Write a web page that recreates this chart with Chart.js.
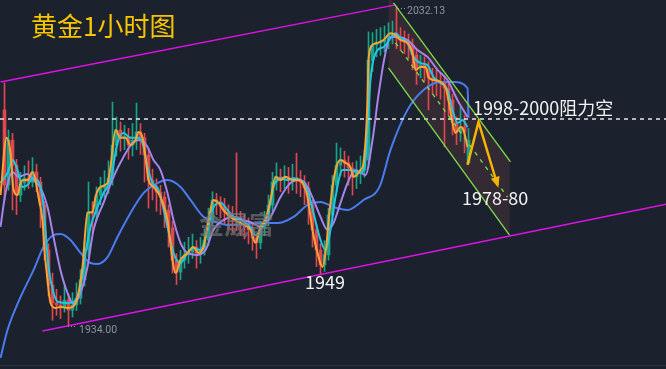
<!DOCTYPE html>
<html>
<head>
<meta charset="utf-8">
<script src="https://cdn.jsdelivr.net/npm/chart.js@4.4.1/dist/chart.umd.min.js"></script>
<style>
  html, body { margin: 0; padding: 0; background: #1b212d; }
  #wrap { width: 666px; height: 369px; position: relative; }
</style>
</head>
<body>
<div id="wrap"><canvas id="c"></canvas></div>
<script>
// K线数据（1小时）
const opens = [
  2000.2, 1977.1, 1990.9, 1983.2, 1974.0, 1977.7, 1979.2, 1978.0, 1981.1, 1978.0,
  1970.9, 1957.1, 1946.3, 1940.8, 1940.2, 1939.3, 1941.7, 1938.6, 1940.2, 1942.3,
  1947.9, 1957.1, 1968.8, 1968.2, 1974.0, 1976.2, 1977.1, 1979.2, 1989.4, 1994.0,
  1991.6, 1992.0, 1989.4, 1990.9, 1993.4, 1991.6, 1986.3, 1978.6, 1976.5, 1974.9,
  1973.4, 1969.4, 1963.9, 1954.0, 1950.3, 1954.0, 1955.6, 1956.5, 1958.0, 1956.2,
  1957.1, 1960.2, 1966.3, 1972.5, 1971.9, 1970.6, 1968.8, 1967.6, 1966.9, 1965.7,
  1965.4, 1964.2, 1963.3, 1960.8, 1959.3, 1963.9, 1966.3, 1970.9, 1978.0, 1979.6,
  1978.6, 1979.6, 1978.6, 1979.2, 1978.6, 1978.0, 1976.2, 1970.9, 1963.3, 1957.1,
  1952.5, 1955.6, 1967.9, 1977.1, 1983.2, 1984.8, 1983.9, 1982.3, 1979.6, 1981.1,
  1981.7, 1984.8, 2015.5, 2020.2, 2020.8, 2021.1, 2021.7, 2023.2, 2023.8, 2022.3,
  2021.7, 2021.1, 2020.2, 2017.1, 2013.1, 2014.0, 2013.1, 2010.0, 2009.4, 2008.8,
  2008.5, 2006.9, 2003.2, 1996.5, 1993.4, 1994.9, 1983.9
];
const highs = [
  2008.5, 1994.0, 1993.0, 1985.0, 1981.0, 1983.0, 1984.5, 1985.5, 1983.5, 1979.5,
  1972.0, 1959.0, 1950.0, 1945.0, 1943.0, 1946.0, 1943.5, 1944.0, 1947.0, 1951.0,
  1960.0, 1978.0, 1972.0, 1976.5, 1979.5, 1981.5, 1984.5, 2002.6, 1998.0, 1996.5,
  1995.5, 1994.5, 1996.0, 2002.3, 1996.0, 1993.0, 1988.0, 1982.0, 1979.0, 1977.0,
  1975.0, 1971.0, 1966.0, 1956.0, 1957.0, 1959.5, 1961.0, 1962.0, 1960.0, 1961.0,
  1963.5, 1970.0, 1975.0, 1974.5, 1973.5, 1973.0, 1971.0, 1970.5, 1987.0, 1969.0,
  1968.0, 1967.0, 1965.0, 1962.0, 1966.0, 1969.0, 1974.0, 1981.0, 1983.9, 1982.0,
  1983.0, 1982.5, 1983.5, 1986.9, 1981.5, 1980.0, 1978.0, 1972.5, 1965.0, 1959.0,
  1960.0, 1970.0, 1980.0, 1990.0, 1988.5, 1987.5, 1986.0, 1984.0, 1984.5, 1986.0,
  1988.0, 2024.2, 2024.0, 2025.0, 2025.5, 2026.0, 2027.0, 2027.5, 2032.13, 2025.5,
  2024.5, 2023.5, 2022.0, 2018.5, 2017.0, 2016.5, 2015.0, 2013.0, 2012.5, 2011.5,
  2010.5, 2008.5, 2005.0, 1998.0, 2001.0, 1998.5, 1994.5
];
const lows = [
  1972.5, 1975.5, 1969.4, 1968.0, 1972.0, 1975.5, 1976.0, 1976.5, 1975.0, 1964.0,
  1954.0, 1943.0, 1935.5, 1937.0, 1936.0, 1938.0, 1934.0, 1936.5, 1938.5, 1940.5,
  1946.0, 1955.0, 1962.0, 1966.0, 1971.0, 1973.0, 1974.5, 1977.0, 1986.0, 1987.5,
  1988.0, 1985.0, 1986.0, 1988.0, 1986.5, 1978.0, 1970.0, 1972.5, 1969.0, 1968.0,
  1964.0, 1958.0, 1950.0, 1946.5, 1948.0, 1951.5, 1953.0, 1954.5, 1951.5, 1953.0,
  1955.5, 1958.5, 1964.5, 1968.0, 1967.0, 1965.0, 1963.5, 1962.5, 1963.0, 1961.5,
  1960.5, 1959.0, 1957.0, 1954.5, 1957.5, 1961.5, 1964.5, 1969.0, 1975.5, 1975.0,
  1976.0, 1974.5, 1975.5, 1974.5, 1973.5, 1971.0, 1965.0, 1958.0, 1952.0, 1949.4,
  1950.5, 1954.0, 1966.0, 1975.0, 1980.0, 1979.5, 1977.0, 1974.0, 1976.0, 1977.5,
  1979.5, 1982.5, 2012.0, 2016.5, 2017.0, 2018.0, 2019.0, 2020.5, 2019.0, 2018.5,
  2017.5, 2016.0, 2012.5, 2008.0, 2010.0, 2009.0, 2000.2, 2005.0, 2004.5, 2003.5,
  1988.8, 1998.5, 1992.5, 1989.5, 1990.5, 1987.0, 1983.5
];
const closes = [
  1977.1, 1990.9, 1983.2, 1974.0, 1977.7, 1979.2, 1978.0, 1981.1, 1978.0, 1970.9,
  1957.1, 1946.3, 1940.8, 1940.2, 1939.3, 1941.7, 1938.6, 1940.2, 1942.3, 1947.9,
  1957.1, 1968.8, 1968.2, 1974.0, 1976.2, 1977.1, 1979.2, 1989.4, 1994.0, 1991.6,
  1992.0, 1989.4, 1990.9, 1993.4, 1991.6, 1986.3, 1978.6, 1976.5, 1974.9, 1973.4,
  1969.4, 1963.9, 1954.0, 1950.3, 1954.0, 1955.6, 1956.5, 1958.0, 1956.2, 1957.1,
  1960.2, 1966.3, 1972.5, 1971.9, 1970.6, 1968.8, 1967.6, 1966.9, 1965.7, 1965.4,
  1964.2, 1963.3, 1960.8, 1959.3, 1963.9, 1966.3, 1970.9, 1978.0, 1979.6, 1978.6,
  1979.6, 1978.6, 1979.2, 1978.6, 1978.0, 1976.2, 1970.9, 1963.3, 1957.1, 1952.5,
  1955.6, 1967.9, 1977.1, 1983.2, 1984.8, 1983.9, 1982.3, 1979.6, 1981.1, 1981.7,
  1984.8, 2015.5, 2020.2, 2020.8, 2021.1, 2021.7, 2023.2, 2023.8, 2022.3, 2021.7,
  2021.1, 2020.2, 2017.1, 2013.1, 2014.0, 2013.1, 2010.0, 2009.4, 2008.8, 2008.5,
  2006.9, 2003.2, 1996.5, 1993.4, 1994.9, 1993.4, 1990.9
];

// 均线（按图读取，x 为K线序号）
const fastIdx = [-1, 0.5, 1.5, 2.25, 3.25, 4, 4.75, 5.75, 7, 7.75, 8.5, 9.5, 10, 10.75, 11.5, 12.75, 14, 15.75, 17, 18.25,
  19.5, 20.75, 22, 22.75, 24, 25.75, 26.5, 27.75, 29, 30.25, 31.5, 32.75, 33.5, 34.5, 35.25, 36, 37.25, 38.5, 39, 40.75,
  42, 42.75, 44, 45.75, 47.25, 48.5, 49.75, 51, 52.25, 53.5, 54.75, 56.5, 59, 61.5, 62.75, 64, 65.25, 66.5, 67.75, 69,
  70.25, 72, 73.25, 74.5, 75.75, 77, 78.25, 79.5, 80.25, 81.5, 82.75, 84, 85.25, 86.5, 87.25, 89, 89.75, 90.75, 91, 92,
  93.25, 94.75, 96.5, 97.75, 99, 100.75, 102, 102.75, 104, 105.25, 106, 107.25, 109, 110.25, 111, 112, 112.75, 114, 114.75, 115.75];
const fastMA = [1974.0, 1991.6, 1986.9, 1975.6, 1974.0, 1977.7, 1978.6, 1978.6, 1981.1, 1978.6, 1973.4, 1966.3, 1957.1, 1947.9, 1940.8, 1939.3, 1939.6, 1939.3, 1939.6, 1942.6,
  1951.9, 1968.5, 1968.8, 1973.4, 1976.5, 1977.7, 1982.6, 1994.0, 1991.6, 1991.6, 1989.4, 1990.9, 1993.4, 1991.6, 1985.7, 1978.6, 1976.5, 1974.6, 1973.4, 1966.3,
  1954.0, 1950.0, 1954.0, 1956.2, 1958.0, 1956.2, 1958.0, 1966.3, 1972.5, 1971.6, 1969.4, 1967.3, 1965.4, 1963.3, 1959.3, 1964.2, 1966.3, 1972.5, 1979.6, 1978.6,
  1979.6, 1978.6, 1978.6, 1977.7, 1973.4, 1963.3, 1956.2, 1951.9, 1956.2, 1971.6, 1981.7, 1984.8, 1983.9, 1982.6, 1979.6, 1981.7, 1983.9, 2003.2, 2015.5, 2020.2,
  2020.8, 2021.7, 2023.8, 2023.2, 2021.7, 2020.8, 2017.7, 2012.5, 2013.4, 2013.4, 2010.3, 2009.4, 2008.8, 2007.2, 2003.2, 1996.2, 1993.1, 1994.9, 1994.0, 1988.8];

const midIdx = [-1, 0.75, 2, 3.25, 4.5, 5.75, 7, 8.25, 9.5, 10.25, 11, 12.25, 13.5, 15.75, 17.25, 19, 20.25, 21.5, 23.25, 24.75,
  26.5, 28.25, 29.75, 31.5, 33.25, 34.5, 35.75, 37, 38.5, 40.75, 42.25, 44, 45.75, 47.25, 49, 50.75, 52.25, 54, 55.75, 57.25,
  59, 61.5, 62.75, 64, 65.75, 67.25, 69, 70.75, 72.25, 74, 75.75, 77.25, 79, 80.25, 81.5, 82.75, 84.5, 86.5, 89, 90.25,
  91.5, 93.25, 94.75, 96.5, 97.75, 99, 100.75, 102.25, 104, 105.75, 107.25, 109, 110.75, 112, 113.25, 114.5, 115.75];
const midMA = [1977.7, 1980.8, 1984.8, 1981.7, 1976.5, 1977.1, 1979.2, 1978.6, 1973.4, 1963.3, 1951.9, 1943.9, 1941.1, 1940.8, 1941.1, 1945.7, 1956.2, 1964.2, 1970.3, 1974.6,
  1978.6, 1990.0, 1993.1, 1991.6, 1991.6, 1990.0, 1982.6, 1977.7, 1975.6, 1964.2, 1956.2, 1953.1, 1956.2, 1957.7, 1957.1, 1963.3, 1970.3, 1971.6, 1969.4, 1967.3,
  1966.3, 1964.2, 1961.7, 1963.3, 1967.3, 1976.5, 1979.2, 1978.6, 1979.2, 1978.6, 1975.6, 1968.5, 1960.2, 1957.1, 1963.3, 1973.4, 1981.7, 1981.7, 1980.8, 1984.8,
  2009.4, 2018.6, 2019.5, 2022.3, 2023.8, 2022.3, 2020.8, 2016.5, 2014.6, 2014.0, 2010.3, 2008.5, 2006.3, 2000.2, 1996.2, 1997.1, 1994.9];

const slowIdx = [-1, 0.25, 2, 3.5, 5.75, 7.25, 9, 10.75, 12.25, 14, 15.75, 17.25, 19, 20.75, 22.25, 24.75, 27.25, 29.75, 32.25, 34,
  35.75, 37.25, 39, 40.75, 42.25, 44, 45.75, 48.25, 50.25, 52.25, 54.75, 57.25, 59.75, 62, 64, 66.5, 69, 71.5, 74, 75.75,
  77.25, 79, 80.75, 82.25, 84, 85.75, 87.75, 90.25, 92, 93.5, 95, 96.5, 98.25, 100.75, 103.25, 105.75, 108.25, 110.75, 113.25, 115.75];
const slowMA = [1964.2, 1974.6, 1981.1, 1979.6, 1980.5, 1978.6, 1976.2, 1970.3, 1961.1, 1950.9, 1943.9, 1940.5, 1943.9, 1951.9, 1963.3, 1971.6, 1979.6, 1985.7, 1990.3, 1990.9,
  1988.8, 1984.8, 1981.7, 1974.6, 1966.3, 1959.3, 1956.2, 1955.6, 1957.1, 1963.3, 1966.3, 1967.3, 1966.3, 1965.4, 1964.2, 1967.3, 1973.4, 1977.7, 1978.6, 1976.5,
  1972.5, 1967.3, 1963.3, 1965.4, 1971.6, 1977.7, 1981.7, 1980.2, 1990.9, 2004.8, 2016.2, 2022.6, 2022.6, 2021.7, 2018.6, 2016.5, 2012.5, 2009.4, 2003.2, 1998.0];

const longIdx = [-1, 0.75, 4, 7.25, 9.75, 12.25, 14, 16.5, 19, 21.5, 23.25, 25.75, 28.25, 31.5, 34.75, 38.25, 40.75, 44, 46.5, 49.75,
  52.75, 55.75, 60.75, 64, 68.25, 72.25, 75.75, 79, 82.25, 85.75, 89.75, 93.75, 96.5, 100.75, 104.75, 109, 112.25, 115.75, 116];
const longMA = [1923.9, 1932.5, 1942.6, 1950.9, 1958.0, 1961.7, 1962.0, 1960.2, 1956.2, 1953.1, 1952.8, 1954.9, 1961.1, 1968.5, 1974.6, 1977.7, 1978.6, 1976.5, 1972.5, 1967.3,
  1965.7, 1964.8, 1965.1, 1965.4, 1965.4, 1967.3, 1970.9, 1971.9, 1970.3, 1969.4, 1972.5, 1976.5, 1987.9, 2000.2, 2006.3, 2008.8, 2008.8, 2006.9, 1997.7];

// 画线
const resistance = 1997.4;
const chanTopX = [-1, 97.75], chanTopY = [2008.8, 2032.5];
const chanBotX = [9.5, 165.5], chanBotY = [1932.2, 1971.2];
const downTopX = [97.25, 126.5], downTopY = [2033.1, 1984.2];
const downBotX = [96, 126.25], downBotY = [2013.1, 1961.7];
const downMidX = [97.75, 125.75], downMidY = [2020.8, 1973.4];
const shadeX = [96, 126.25, 126.25, 96, 96], shadeY = [2035.2, 1984.6, 1961.7, 2013.1, 2035.2];
const arrowX = [115.75, 118.5, 123.25], arrowY = [1983.3, 1996.5, 1977.1];

const UP = '#17a589', DOWN = '#e0474f';
const pts = (xs, ys) => xs.map((x, i) => ({ x, y: ys[i] }));
const candleColors = closes.map((c, i) => c >= opens[i] ? UP : DOWN);

const lineDs = (data, color, width, order, extra) => Object.assign({
  type: 'line', data, borderColor: color, borderWidth: width, pointRadius: 0,
  fill: false, tension: 0, order
}, extra || {});

const annotate = {
  id: 'annotate',
  afterDatasetsDraw(chart) {
    const { ctx, scales: { x, y } } = chart;
    ctx.save();
    // 箭头
    const x1 = x.getPixelForValue(arrowX[1]), y1 = y.getPixelForValue(arrowY[1]);
    const x2 = x.getPixelForValue(arrowX[2]), y2 = y.getPixelForValue(arrowY[2]);
    const a = Math.atan2(y2 - y1, x2 - x1);
    ctx.fillStyle = '#f5b400';
    ctx.beginPath();
    ctx.moveTo(x2 + 3 * Math.cos(a), y2 + 3 * Math.sin(a));
    ctx.lineTo(x2 - 8 * Math.cos(a) + 4.5 * Math.sin(a), y2 - 8 * Math.sin(a) - 4.5 * Math.cos(a));
    ctx.lineTo(x2 - 8 * Math.cos(a) - 4.5 * Math.sin(a), y2 - 8 * Math.sin(a) + 4.5 * Math.cos(a));
    ctx.closePath();
    ctx.fill();

    // 高低点引线
    ctx.strokeStyle = '#8e949c';
    ctx.lineWidth = 1;
    ctx.setLineDash([1, 2]);
    ctx.beginPath();
    ctx.moveTo(398, 8.5); ctx.lineTo(406, 8.5);
    ctx.moveTo(68, 326.5); ctx.lineTo(77, 326.5);
    ctx.stroke();
    ctx.setLineDash([]);

    ctx.textBaseline = 'middle';
    ctx.fillStyle = '#8e949c';
    ctx.font = '10.5px Roboto';
    ctx.fillText('2032.13', 407, 11);
    ctx.fillText('1934.00', 79, 330);

    ctx.fillStyle = 'rgba(120,120,120,0.65)';
    ctx.font = 'bold 25px "Noto Sans CJK SC"';
    ctx.fillText('金晟富', 199, 224);

    ctx.fillStyle = '#f6c500';
    ctx.font = '26px "Noto Sans CJK SC"';
    ctx.fillText('黄金1小时图', 31, 26);

    ctx.fillStyle = '#f2f2f2';
    ctx.font = '18px "Noto Sans CJK SC"';
    ctx.fillText('1998-2000阻力空', 473, 108);
    ctx.fillText('1978-80', 462, 198);
    ctx.fillText('1949', 305, 282);

    ctx.fillStyle = '#2b313d';
    ctx.fillRect(0, 365, 666, 1);
    ctx.restore();
  }
};

new Chart(document.getElementById('c'), {
  type: 'bar',
  data: {
    datasets: [
      lineDs(pts(shadeX, shadeY), 'rgba(0,0,0,0)', 0, 30, { fill: 'shape', backgroundColor: 'rgba(110,62,66,0.3)' }),
      {
        type: 'bar', data: lows.map((l, i) => ({ x: i, y: [l, highs[i]] })),
        backgroundColor: candleColors, barThickness: 1, grouped: false, order: 21
      },
      {
        type: 'bar', data: opens.map((o, i) => ({ x: i, y: [o, closes[i]] })),
        backgroundColor: candleColors, barThickness: 3, minBarLength: 1, grouped: false, order: 20
      },
      lineDs(pts(longIdx, longMA), '#4a7cf0', 2, 14, { cubicInterpolationMode: 'monotone' }),
      lineDs(pts(slowIdx, slowMA), '#a585ec', 2, 13, { cubicInterpolationMode: 'monotone' }),
      lineDs(pts(midIdx, midMA), '#22c6e3', 2, 12, { cubicInterpolationMode: 'monotone' }),
      lineDs(pts(fastIdx, fastMA), '#f7a534', 2, 11, { cubicInterpolationMode: 'monotone' }),
      lineDs(pts([-1.125, 165.375], [resistance, resistance]), '#e6e6e6', 1.5, 5, { borderDash: [4, 4] }),
      lineDs(pts(chanTopX, chanTopY), '#e012e6', 1.5, 4),
      lineDs(pts(chanBotX, chanBotY), '#e012e6', 1.5, 4),
      lineDs(pts(downTopX, downTopY), '#7ee04a', 1.3, 3),
      lineDs(pts(downBotX, downBotY), '#7ee04a', 1.3, 3),
      lineDs(pts(downMidX, downMidY), '#7ee04a', 1.3, 3, { borderDash: [4, 5] }),
      lineDs(pts(arrowX, arrowY), '#f5b400', 2.5, 1)
    ]
  },
  options: {
    responsive: true,
    maintainAspectRatio: false,
    animation: false,
    events: [],
    layout: { padding: 0 },
    plugins: { legend: { display: false }, tooltip: { enabled: false } },
    scales: {
      x: { type: 'linear', min: -1.125, max: 165.375, offset: false, display: false },
      y: { type: 'linear', min: 1920.5, max: 2034, display: false }
    }
  },
  plugins: [annotate]
});
</script>
</body>
</html>
